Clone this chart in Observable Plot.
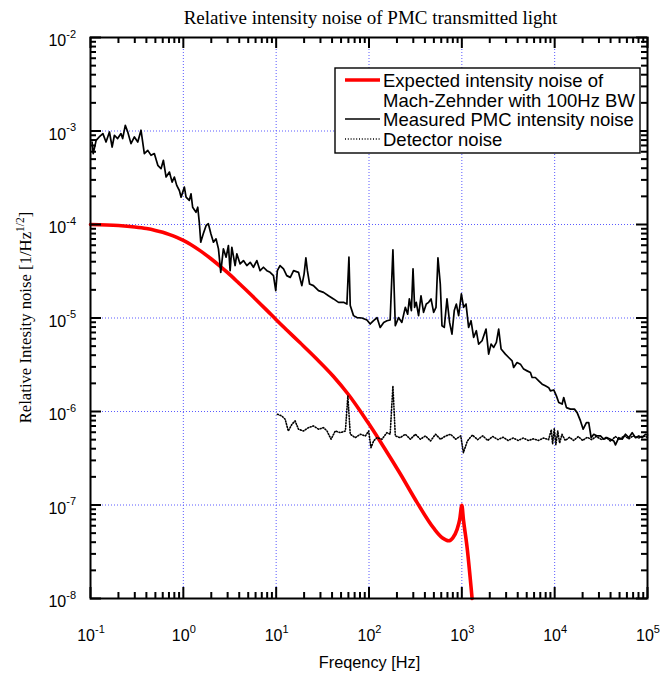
<!DOCTYPE html>
<html><head><meta charset="utf-8">
<script src="https://cdn.jsdelivr.net/npm/d3@7"></script>
<script src="https://cdn.jsdelivr.net/npm/@observablehq/plot@0.6"></script>
<style>body{margin:0;background:#fff;} svg{display:block;}</style>
</head><body><div id="chart"></div>
<script>
// ---- texts ----
const titleText = "Relative intensity noise of PMC transmitted light";
const xLabelText = "Freqency [Hz]";
const yLabelMain = "Relative Intesity noise [1/Hz";
const yLabelSup = "1/2";
const yLabelEnd = "]";
const xTickExponents = [-1, 0, 1, 2, 3, 4, 5];
const yTickExponents = [-8, -7, -6, -5, -4, -3, -2];
const legendExpected = ["Expected intensity noise of", "Mach-Zehnder with 100Hz BW"];
const legendMeasured = "Measured PMC intensity noise";
const legendDetector = "Detector noise";

// ---- series: expected intensity noise (red) ----
const expectedFreq = [0.1, 0.2, 0.3, 0.4, 0.5, 0.6, 0.7, 0.85, 1.0, 1.2, 1.5, 2.0, 2.5, 3.0, 4.0, 5.0, 6.0, 8.0, 10, 13, 18, 27, 41, 60, 80, 100, 144, 217, 330, 500, 620, 720, 800, 887, 950, 1000, 1040, 1140, 1290];
const expectedNoise = [1.0e-4, 9.75e-5, 9.4e-5, 9.04e-5, 8.64e-5, 8.25e-5, 7.85e-5, 7.29e-5, 6.76e-5, 6.12e-5, 5.29e-5, 4.28e-5, 3.57e-5, 3.05e-5, 2.34e-5, 1.9e-5, 1.59e-5, 1.2e-5, 9.6e-6, 7.45e-6, 5.46e-6, 3.69e-6, 2.4e-6, 1.52e-6, 1.02e-6, 7.33e-7, 4.18e-7, 2.16e-7, 1.06e-7, 5.61e-8, 4.43e-8, 4.14e-8, 4.45e-8, 5.45e-8, 7.06e-8, 9.9e-8, 7.0e-8, 3.5e-8, 1.0e-8];

// ---- series: measured PMC intensity noise (black) ----
const measuredFreq = [0.104, 0.107, 0.115, 0.124, 0.136, 0.147, 0.160, 0.171, 0.181, 0.196, 0.213, 0.222, 0.237, 0.252, 0.273, 0.297, 0.323, 0.350, 0.380, 0.414, 0.449, 0.487, 0.531, 0.575, 0.610, 0.652, 0.708, 0.757, 0.800, 0.849, 0.906, 0.946, 1.026, 1.07, 1.16, 1.21, 1.26, 1.37, 1.43, 1.49, 1.54, 1.64, 1.76, 1.86, 1.98, 2.11, 2.25, 2.39, 2.53, 2.70, 2.89, 3.06, 3.19, 3.33, 3.61, 3.77, 4.09, 4.44, 4.83, 5.25, 5.69, 6.19, 6.71, 7.29, 7.94, 8.61, 9.35, 9.9, 10.3, 11.0, 12.0, 13.0, 14.2, 15.4, 17.4, 18.9, 20.0, 20.9, 21.7, 22.9, 25.2, 28.6, 32.4, 36.6, 41.5, 47.0, 53.2, 57.8, 60.8, 62.8, 68.1, 74.1, 83.9, 95.0, 103, 112, 122, 132, 144, 156, 169, 181, 192, 208, 226, 246, 261, 272, 286, 298, 310, 323, 342, 363, 387, 414, 439, 466, 497, 527, 553, 586, 611, 647, 692, 738, 783, 829, 873, 924, 989, 1045, 1110, 1183, 1256, 1340, 1432, 1517, 1652, 1823, 1945, 2065, 2203, 2355, 2494, 2648, 2944, 3198, 3479, 3615, 3935, 4275, 4634, 5047, 5480, 5715, 6195, 6730, 7330, 7940, 8630, 9000, 9770, 10440, 11070, 12030, 12520, 13390, 14790, 16330, 17460, 18970, 20280, 21980, 23280, 24720, 26360, 28710, 31120, 33810, 36730, 39900, 43350, 45190, 49090, 53330, 57940, 62810, 68390, 74300, 80540, 87700, 95060, 100000];
const measuredNoise = [7.62e-4, 5.73e-4, 7.95e-4, 8.63e-4, 9.38e-4, 7.62e-4, 9.76e-4, 6.74e-4, 9.0e-4, 8.3e-4, 9.38e-4, 8.3e-4, 1.15e-3, 9.76e-4, 7.33e-4, 8.63e-4, 7.62e-4, 1.02e-3, 5.73e-4, 6.21e-4, 5.49e-4, 5.73e-4, 4.29e-4, 3.95e-4, 4.86e-4, 3.22e-4, 3.64e-4, 2.84e-4, 3.22e-4, 2.62e-4, 2.31e-4, 1.96e-4, 2.51e-4, 1.96e-4, 1.81e-4, 2.13e-4, 1.53e-4, 1.35e-4, 1.53e-4, 1.02e-4, 6.46e-5, 7.95e-5, 9.76e-5, 1.02e-4, 7.95e-5, 6.46e-5, 7.03e-5, 5.49e-5, 3.08e-5, 5.49e-5, 4.47e-5, 5.96e-5, 3.21e-5, 5.71e-5, 3.64e-5, 4.85e-5, 3.79e-5, 4.11e-5, 3.64e-5, 3.94e-5, 3.49e-5, 4.11e-5, 3.21e-5, 3.49e-5, 3.21e-5, 3.08e-5, 2.84e-5, 1.96e-5, 3.21e-5, 3.64e-5, 3.35e-5, 2.84e-5, 2.72e-5, 3.21e-5, 3.08e-5, 2.22e-5, 2.97e-5, 4.40e-5, 3.21e-5, 2.31e-5, 2.22e-5, 1.96e-5, 1.88e-5, 1.73e-5, 1.60e-5, 1.47e-5, 1.47e-5, 1.41e-5, 4.47e-5, 1.36e-5, 1.06e-5, 1.01e-5, 1.0e-5, 9.52e-6, 8.63e-6, 9.35e-6, 1.01e-5, 7.93e-6, 8.97e-6, 9.35e-6, 9.52e-6, 5.36e-5, 8.27e-6, 1.01e-5, 8.97e-6, 1.30e-5, 1.10e-5, 1.60e-5, 1.20e-5, 3.35e-5, 1.30e-5, 1.47e-5, 1.06e-5, 1.73e-5, 1.15e-5, 1.41e-5, 1.47e-5, 1.60e-5, 1.15e-5, 1.30e-5, 4.40e-5, 2.31e-5, 8.27e-6, 7.93e-6, 1.60e-5, 8.97e-6, 6.73e-6, 1.20e-5, 1.41e-5, 1.06e-5, 1.81e-5, 1.30e-5, 1.41e-5, 7.93e-6, 9.35e-6, 6.19e-6, 7.31e-6, 5.26e-6, 5.71e-6, 7.62e-6, 4.11e-6, 5.26e-6, 4.84e-6, 5.48e-6, 7.62e-6, 4.66e-6, 4.11e-6, 3.78e-6, 3.48e-6, 2.96e-6, 3.34e-6, 3.21e-6, 2.84e-6, 2.72e-6, 2.61e-6, 2.31e-6, 2.31e-6, 2.13e-6, 1.96e-6, 1.88e-6, 1.80e-6, 1.66e-6, 1.70e-6, 1.47e-6, 1.25e-6, 1.20e-6, 1.41e-6, 1.10e-6, 1.06e-6, 1.06e-6, 9.73e-7, 7.93e-7, 6.46e-7, 7.6e-7, 7.6e-7, 5.25e-7, 5.71e-7, 5.48e-7, 5.48e-7, 5.05e-7, 5.25e-7, 5.05e-7, 4.84e-7, 4.39e-7, 5.25e-7, 5.05e-7, 5.71e-7, 5.25e-7, 5.94e-7, 5.25e-7, 5.48e-7, 5.25e-7, 5.71e-7, 5.6e-7];

// ---- series: detector noise (dotted) ----
const detectorFreq = [10.3, 11.5, 12.5, 13.5, 14.8, 16.0, 17.4, 19.7, 22.3, 25.2, 28.6, 32.4, 35.3, 39.0, 43.3, 49.1, 55.7, 59.2, 62.8, 71.2, 80.7, 91.4, 99.2, 105, 112, 122, 138, 156, 169, 181, 192, 217, 246, 279, 316, 358, 405, 460, 521, 590, 669, 758, 859, 974, 1040, 1147, 1300, 1480, 1680, 1900, 2150, 2450, 2780, 3150, 3570, 4050, 4600, 5200, 5900, 6700, 7600, 8600, 9200, 9500, 9900, 10300, 10800, 11300, 12000, 13000, 14500, 16000, 18000, 20000, 22500, 25000, 28000, 32000, 36000, 40000, 45000, 50000, 56000, 63000, 70000, 80000, 90000, 100000];
const detectorNoise = [9.35e-7, 8.97e-7, 8.26e-7, 6.19e-7, 7.31e-7, 7.93e-7, 6.46e-7, 6.19e-7, 6.72e-7, 7.01e-7, 6.46e-7, 6.72e-7, 6.19e-7, 5.05e-7, 6.19e-7, 5.94e-7, 6.19e-7, 1.47e-6, 5.71e-7, 5.25e-7, 5.71e-7, 5.48e-7, 6.19e-7, 4.1e-7, 4.84e-7, 5.25e-7, 5.05e-7, 5.94e-7, 5.71e-7, 1.88e-6, 5.48e-7, 5.25e-7, 5.71e-7, 5.05e-7, 5.71e-7, 5.05e-7, 5.48e-7, 4.84e-7, 5.71e-7, 5.05e-7, 5.48e-7, 5.71e-7, 5.05e-7, 5.48e-7, 3.63e-7, 4.84e-7, 5.6e-7, 5.0e-7, 5.5e-7, 4.9e-7, 5.4e-7, 5.0e-7, 5.3e-7, 4.9e-7, 5.2e-7, 4.9e-7, 5.2e-7, 4.9e-7, 5.1e-7, 4.9e-7, 5.2e-7, 5.0e-7, 6.4e-7, 4.5e-7, 6.6e-7, 4.4e-7, 6.2e-7, 4.6e-7, 5.7e-7, 4.9e-7, 5.3e-7, 4.9e-7, 5.4e-7, 4.9e-7, 5.3e-7, 5.0e-7, 5.4e-7, 5.0e-7, 5.3e-7, 4.8e-7, 5.4e-7, 5.0e-7, 5.5e-7, 5.1e-7, 5.5e-7, 5.2e-7, 5.5e-7, 5.3e-7];

// ---- tables ----
const expected = expectedFreq.map((f, i) => ({f, v: expectedNoise[i]}));
const measured = measuredFreq.map((f, i) => ({f, v: measuredNoise[i]}));
const detector = detectorFreq.map((f, i) => ({f, v: detectorNoise[i]}));
const xMajor = xTickExponents.map(e => Math.pow(10, e));
const yMajor = yTickExponents.map(e => Math.pow(10, e));
const xMinor = xTickExponents.slice(0, -1).flatMap(e => d3.range(2, 10).map(k => k * Math.pow(10, e)));
const yMinor = yTickExponents.slice(0, -1).flatMap(e => d3.range(2, 10).map(k => k * Math.pow(10, e)));

const W = 660, H = 675, ML = 90, MR = 13, MT = 37, MB = 77;
const FW = W - ML - MR, FH = H - MT - MB;
const MAJ = 11, MIN = 6;
const gridColor = "#5a5aff";
const tickStyle = {stroke: "black", strokeWidth: 2};

const chart = Plot.plot({
  width: W, height: H,
  marginLeft: ML, marginRight: MR, marginTop: MT, marginBottom: MB,
  x: {type: "log", domain: [0.1, 1e5], axis: null},
  y: {type: "log", domain: [1e-8, 1e-2], axis: null},
  marks: [
    Plot.ruleX(xMajor, {x: d => d, stroke: gridColor, strokeWidth: 1, strokeDasharray: "1,2"}),
    Plot.ruleY(yMajor, {y: d => d, stroke: gridColor, strokeWidth: 1, strokeDasharray: "1,2"}),
    Plot.line(expected, {x: "f", y: "v", stroke: "#ff0000", strokeWidth: 3.6, curve: "monotone-x"}),
    Plot.line(measured, {x: "f", y: "v", stroke: "black", strokeWidth: 1.7}),
    Plot.line(detector, {x: "f", y: "v", stroke: "black", strokeWidth: 1.6, strokeDasharray: "1,1.8"}),
    Plot.frame({stroke: "black", strokeWidth: 2}),
    // axis ticks on all four sides, inside the frame
    Plot.tickX(xMajor, {x: d => d, insetTop: FH - MAJ, ...tickStyle}),
    Plot.tickX(xMajor, {x: d => d, insetBottom: FH - MAJ, ...tickStyle}),
    Plot.tickX(xMinor, {x: d => d, insetTop: FH - MIN, ...tickStyle}),
    Plot.tickX(xMinor, {x: d => d, insetBottom: FH - MIN, ...tickStyle}),
    Plot.tickY(yMajor, {y: d => d, insetRight: FW - MAJ, ...tickStyle}),
    Plot.tickY(yMajor, {y: d => d, insetLeft: FW - MAJ, ...tickStyle}),
    Plot.tickY(yMinor, {y: d => d, insetRight: FW - MIN, ...tickStyle}),
    Plot.tickY(yMinor, {y: d => d, insetLeft: FW - MIN, ...tickStyle})
  ]
});
document.getElementById("chart").appendChild(chart);

// ---- tick labels & titles, positioned with the plot's own scales ----
const sxd = chart.scale("x"), syd = chart.scale("y");
const sx = d3.scaleLog(sxd.domain, sxd.range);
const sy = d3.scaleLog(syd.domain, syd.range);
const x0 = sx(0.1), x1 = sx(1e5), yB = sy(1e-8), yT = sy(1e-2);
const svg = d3.select(chart);
const sans = "'Liberation Sans', Arial, sans-serif";
const serif = "'Liberation Serif', 'Times New Roman', serif";

xTickExponents.forEach(e => {
  const t = svg.append("text").attr("x", sx(Math.pow(10, e)) + 1).attr("y", yB + 43)
    .attr("text-anchor", "middle").attr("font-family", sans).attr("font-size", 16).attr("fill", "black");
  t.append("tspan").text("10");
  t.append("tspan").attr("dy", -8.5).attr("font-size", 11).text(String(e));
});
yTickExponents.forEach(e => {
  const t = svg.append("text").attr("x", x0 - 14).attr("y", sy(Math.pow(10, e)) + 9)
    .attr("text-anchor", "end").attr("font-family", sans).attr("font-size", 16).attr("fill", "black");
  t.append("tspan").text("10");
  t.append("tspan").attr("dy", -8.5).attr("font-size", 11).text(String(e));
});
svg.append("text").attr("x", (x0 + x1) / 2 + 2).attr("y", 24).attr("text-anchor", "middle")
  .attr("font-family", serif).attr("font-size", 19).attr("fill", "black").text(titleText);
svg.append("text").attr("x", (x0 + x1) / 2 + 1).attr("y", 668).attr("text-anchor", "middle")
  .attr("font-family", sans).attr("font-size", 16.3).attr("fill", "black").text(xLabelText);
const yl = svg.append("text").attr("transform", `translate(31,${(yB + yT) / 2}) rotate(-90)`)
  .attr("text-anchor", "middle").attr("font-family", serif).attr("font-size", 16.7).attr("fill", "black");
yl.append("tspan").text(yLabelMain);
yl.append("tspan").attr("dy", -7).attr("font-size", 11.5).text(yLabelSup);
yl.append("tspan").attr("dy", 7).text(yLabelEnd);

// legend
const lg = svg.append("g").attr("font-family", sans).attr("font-size", 18.5).attr("fill", "black").attr("text-anchor", "start");
lg.append("rect").attr("x", 335).attr("y", 68).attr("width", 305).attr("height", 85)
  .attr("fill", "white").attr("stroke", "black").attr("stroke-width", 1.4);
lg.append("line").attr("x1", 345).attr("x2", 380).attr("y1", 80).attr("y2", 80).attr("stroke", "#ff0000").attr("stroke-width", 3.6);
lg.append("text").attr("x", 383).attr("y", 87).text(legendExpected[0]);
lg.append("text").attr("x", 383).attr("y", 106.5).text(legendExpected[1]);
lg.append("line").attr("x1", 345).attr("x2", 380).attr("y1", 119).attr("y2", 119).attr("stroke", "black").attr("stroke-width", 1.7);
lg.append("text").attr("x", 383).attr("y", 126).text(legendMeasured);
lg.append("line").attr("x1", 345).attr("x2", 380).attr("y1", 139).attr("y2", 139).attr("stroke", "black").attr("stroke-width", 1.6).attr("stroke-dasharray", "1,1.8");
lg.append("text").attr("x", 383).attr("y", 145.5).text(legendDetector);
</script>
</body></html>
